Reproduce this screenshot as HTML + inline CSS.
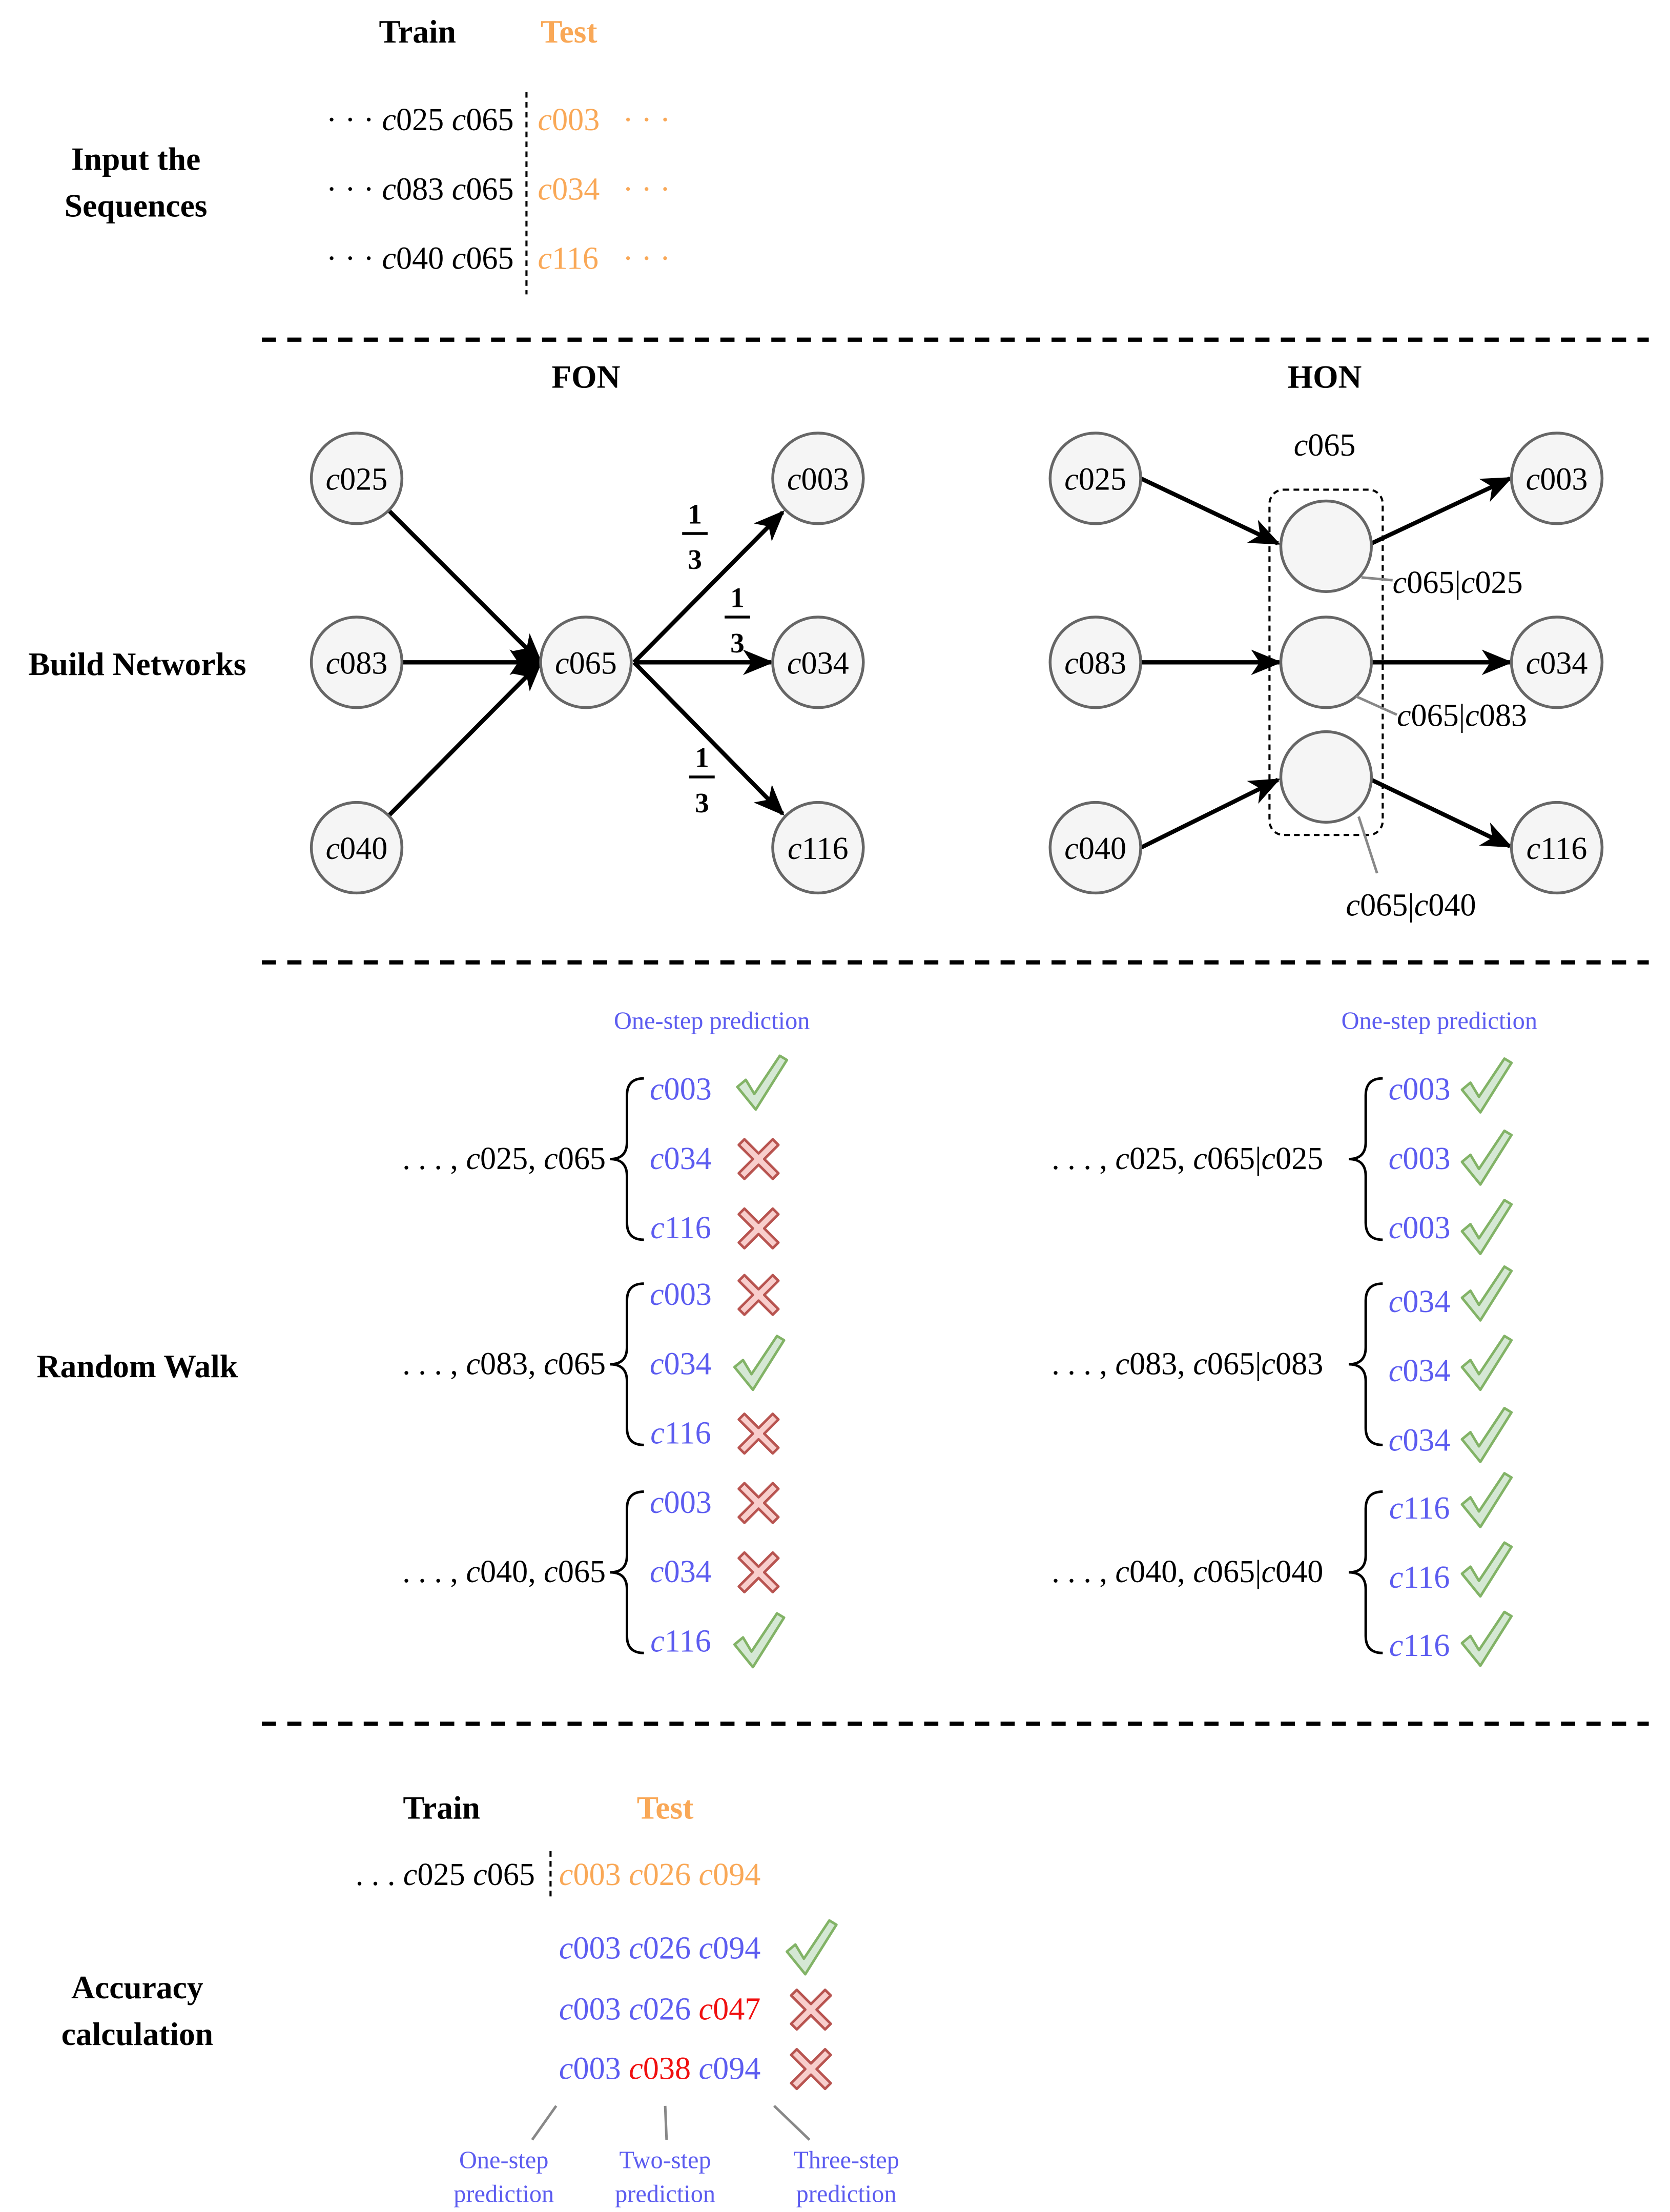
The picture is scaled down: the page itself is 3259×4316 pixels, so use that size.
<!DOCTYPE html>
<html><head><meta charset="utf-8"><style>
html,body{margin:0;padding:0;background:#fff}
svg{display:block}
text{font-family:"Liberation Serif",serif;font-size:22.5px;fill:#000}
.b{font-weight:bold;font-size:23px}
.o{fill:#f9a857}
.bl{fill:#5c5cf0}
.r{fill:#f01010}
.sm{font-size:17.5px}
.fr{font-size:20px;font-weight:bold}
</style></head><body>
<svg width="3259" height="4316" viewBox="0 0 1180 1563" preserveAspectRatio="none" xmlns="http://www.w3.org/2000/svg">
<defs>
<marker id="a2" markerWidth="22" markerHeight="18" refX="20" refY="9" orient="auto" markerUnits="userSpaceOnUse" viewBox="0 0 22 18">
<path d="M0,0 L22,9 L0,18 L6,9 z" fill="#000"/></marker>
<g id="ck"><path d="M0,22 L6,17 L12,27 L30,0 L35,3 L13,38 Z" fill="#d5e8d4" stroke="#82b366" stroke-width="1.8" stroke-linejoin="round"/></g>
<g id="xx"><path d="M0,4 L4,0 L14,10 L24,0 L28,4 L18,14 L28,24 L24,28 L14,18 L4,28 L0,24 L10,14 Z" fill="#f8cecc" stroke="#b85450" stroke-width="1.8" stroke-linejoin="round"/></g>
</defs>

<!-- Section 1 -->
<text x="295" y="30" class="b" text-anchor="middle">Train</text>
<text x="402" y="30" class="b o" text-anchor="middle">Test</text>
<text x="96" y="120" class="b" text-anchor="middle">Input the</text>
<text x="96" y="153" class="b" text-anchor="middle">Sequences</text>
<line x1="372" y1="65" x2="372" y2="208" stroke="#000" stroke-width="1.5" stroke-dasharray="4,3"/>
<text x="363" y="92" text-anchor="end">· · ·  <tspan font-style="italic">c</tspan>025 <tspan font-style="italic">c</tspan>065</text>
<text x="363" y="141" text-anchor="end">· · ·  <tspan font-style="italic">c</tspan>083 <tspan font-style="italic">c</tspan>065</text>
<text x="363" y="190" text-anchor="end">· · ·  <tspan font-style="italic">c</tspan>040 <tspan font-style="italic">c</tspan>065</text>
<text x="380" y="92" class="o"><tspan font-style="italic">c</tspan>003<tspan x="440">· · ·</tspan></text>
<text x="380" y="141" class="o"><tspan font-style="italic">c</tspan>034<tspan x="440">· · ·</tspan></text>
<text x="380" y="190" class="o"><tspan font-style="italic">c</tspan>116<tspan x="440">· · ·</tspan></text>

<g stroke="#000" stroke-width="3" stroke-dasharray="10,8">
<line x1="185" y1="240" x2="1165" y2="240"/>
<line x1="185" y1="680" x2="1165" y2="680"/>
<line x1="185" y1="1218" x2="1165" y2="1218"/>
</g>

<!-- Build networks -->
<text x="97" y="477" class="b" text-anchor="middle">Build Networks</text>
<text x="414" y="274" class="b" text-anchor="middle">FON</text>
<text x="936" y="274" class="b" text-anchor="middle">HON</text>
<g stroke="#000" stroke-width="3" fill="none">
<line x1="275" y1="361" x2="382" y2="468" marker-end="url(#a2)"/>
<line x1="284" y1="468" x2="380" y2="468" marker-end="url(#a2)"/>
<line x1="275" y1="576" x2="382" y2="468" marker-end="url(#a2)"/>
<line x1="448" y1="468" x2="553" y2="362" marker-end="url(#a2)"/>
<line x1="448" y1="468" x2="545" y2="468" marker-end="url(#a2)"/>
<line x1="448" y1="468" x2="553" y2="575" marker-end="url(#a2)"/>
<line x1="806" y1="338" x2="903" y2="384" marker-end="url(#a2)"/>
<line x1="806" y1="468" x2="904" y2="468" marker-end="url(#a2)"/>
<line x1="806" y1="599" x2="903" y2="551" marker-end="url(#a2)"/>
<line x1="969" y1="384" x2="1067" y2="338" marker-end="url(#a2)"/>
<line x1="969" y1="468" x2="1067" y2="468" marker-end="url(#a2)"/>
<line x1="969" y1="551" x2="1067" y2="598" marker-end="url(#a2)"/>
</g>
<g fill="#f5f5f5" stroke="#666" stroke-width="2">
<circle cx="252" cy="338" r="32"/><circle cx="252" cy="468" r="32"/><circle cx="252" cy="599" r="32"/>
<circle cx="414" cy="468" r="32"/>
<circle cx="578" cy="338" r="32"/><circle cx="578" cy="468" r="32"/><circle cx="578" cy="599" r="32"/>
<circle cx="774" cy="338" r="32"/><circle cx="774" cy="468" r="32"/><circle cx="774" cy="599" r="32"/>
<circle cx="937" cy="386" r="32"/><circle cx="937" cy="468" r="32"/><circle cx="937" cy="549" r="32"/>
<circle cx="1100" cy="338" r="32"/><circle cx="1100" cy="468" r="32"/><circle cx="1100" cy="599" r="32"/>
</g>
<rect x="897" y="346" width="80" height="244" rx="10" fill="none" stroke="#000" stroke-width="1.5" stroke-dasharray="4,3"/>
<g text-anchor="middle">
<text x="252" y="346"><tspan font-style="italic">c</tspan>025</text>
<text x="252" y="476"><tspan font-style="italic">c</tspan>083</text>
<text x="252" y="607"><tspan font-style="italic">c</tspan>040</text>
<text x="414" y="476"><tspan font-style="italic">c</tspan>065</text>
<text x="578" y="346"><tspan font-style="italic">c</tspan>003</text>
<text x="578" y="476"><tspan font-style="italic">c</tspan>034</text>
<text x="578" y="607"><tspan font-style="italic">c</tspan>116</text>
<text x="774" y="346"><tspan font-style="italic">c</tspan>025</text>
<text x="774" y="476"><tspan font-style="italic">c</tspan>083</text>
<text x="774" y="607"><tspan font-style="italic">c</tspan>040</text>
<text x="1100" y="346"><tspan font-style="italic">c</tspan>003</text>
<text x="1100" y="476"><tspan font-style="italic">c</tspan>034</text>
<text x="1100" y="607"><tspan font-style="italic">c</tspan>116</text>
<text x="936" y="322"><tspan font-style="italic">c</tspan>065</text>
<text x="491" y="370" class="fr">1</text><line x1="482" y1="377" x2="500" y2="377" stroke="#000" stroke-width="2"/><text x="491" y="402" class="fr">3</text>
<text x="521" y="429" class="fr">1</text><line x1="512" y1="436" x2="530" y2="436" stroke="#000" stroke-width="2"/><text x="521" y="461" class="fr">3</text>
<text x="496" y="542" class="fr">1</text><line x1="487" y1="549" x2="505" y2="549" stroke="#000" stroke-width="2"/><text x="496" y="574" class="fr">3</text>
</g>
<g stroke="#888" stroke-width="1.8">
<line x1="962" y1="408" x2="984" y2="410"/>
<line x1="958" y1="492" x2="987" y2="505"/>
<line x1="960" y1="577" x2="973" y2="617"/>
</g>
<text x="984" y="419"><tspan font-style="italic">c</tspan>065|<tspan font-style="italic">c</tspan>025</text>
<text x="987" y="513"><tspan font-style="italic">c</tspan>065|<tspan font-style="italic">c</tspan>083</text>
<text x="951" y="647"><tspan font-style="italic">c</tspan>065|<tspan font-style="italic">c</tspan>040</text>

<!-- Random walk -->
<text x="97" y="973" class="b" text-anchor="middle">Random Walk</text>
<text x="503" y="727" class="bl sm" text-anchor="middle">One-step prediction</text>
<text x="1017" y="727" class="bl sm" text-anchor="middle">One-step prediction</text>
<g fill="none" stroke="#000" stroke-width="1.8">
<path d="M455,762 Q443,762 443,774 L443,807 Q443,819 431,819 Q443,819 443,831 L443,864 Q443,876 455,876"/>
<path d="M455,907 Q443,907 443,919 L443,952 Q443,964 431,964 Q443,964 443,976 L443,1009 Q443,1021 455,1021"/>
<path d="M455,1054 Q443,1054 443,1066 L443,1099 Q443,1111 431,1111 Q443,1111 443,1123 L443,1156 Q443,1168 455,1168"/>
<path d="M977,762 Q965,762 965,774 L965,807 Q965,819 953,819 Q965,819 965,831 L965,864 Q965,876 977,876"/>
<path d="M977,907 Q965,907 965,919 L965,952 Q965,964 953,964 Q965,964 965,976 L965,1009 Q965,1021 977,1021"/>
<path d="M977,1054 Q965,1054 965,1066 L965,1099 Q965,1111 953,1111 Q965,1111 965,1123 L965,1156 Q965,1168 977,1168"/>
</g>
<g text-anchor="end">
<text x="428" y="826">. . . , <tspan font-style="italic">c</tspan>025, <tspan font-style="italic">c</tspan>065</text>
<text x="428" y="971">. . . , <tspan font-style="italic">c</tspan>083, <tspan font-style="italic">c</tspan>065</text>
<text x="428" y="1118">. . . , <tspan font-style="italic">c</tspan>040, <tspan font-style="italic">c</tspan>065</text>
<text x="935" y="826">. . . , <tspan font-style="italic">c</tspan>025, <tspan font-style="italic">c</tspan>065|<tspan font-style="italic">c</tspan>025</text>
<text x="935" y="971">. . . , <tspan font-style="italic">c</tspan>083, <tspan font-style="italic">c</tspan>065|<tspan font-style="italic">c</tspan>083</text>
<text x="935" y="1118">. . . , <tspan font-style="italic">c</tspan>040, <tspan font-style="italic">c</tspan>065|<tspan font-style="italic">c</tspan>040</text>
</g>
<g text-anchor="middle">
<text x="481" y="777" class="bl"><tspan font-style="italic">c</tspan>003</text>
<text x="481" y="826" class="bl"><tspan font-style="italic">c</tspan>034</text>
<text x="481" y="875" class="bl"><tspan font-style="italic">c</tspan>116</text>
<text x="481" y="922" class="bl"><tspan font-style="italic">c</tspan>003</text>
<text x="481" y="971" class="bl"><tspan font-style="italic">c</tspan>034</text>
<text x="481" y="1020" class="bl"><tspan font-style="italic">c</tspan>116</text>
<text x="481" y="1069" class="bl"><tspan font-style="italic">c</tspan>003</text>
<text x="481" y="1118" class="bl"><tspan font-style="italic">c</tspan>034</text>
<text x="481" y="1167" class="bl"><tspan font-style="italic">c</tspan>116</text>
<text x="1003" y="777" class="bl"><tspan font-style="italic">c</tspan>003</text>
<text x="1003" y="826" class="bl"><tspan font-style="italic">c</tspan>003</text>
<text x="1003" y="875" class="bl"><tspan font-style="italic">c</tspan>003</text>
<text x="1003" y="927" class="bl"><tspan font-style="italic">c</tspan>034</text>
<text x="1003" y="976" class="bl"><tspan font-style="italic">c</tspan>034</text>
<text x="1003" y="1025" class="bl"><tspan font-style="italic">c</tspan>034</text>
<text x="1003" y="1073" class="bl"><tspan font-style="italic">c</tspan>116</text>
<text x="1003" y="1122" class="bl"><tspan font-style="italic">c</tspan>116</text>
<text x="1003" y="1170" class="bl"><tspan font-style="italic">c</tspan>116</text>
</g>
<use href="#ck" x="521" y="746"/>
<use href="#xx" x="522" y="805"/>
<use href="#xx" x="522" y="854"/>
<use href="#xx" x="522" y="901"/>
<use href="#ck" x="519" y="944"/>
<use href="#xx" x="522" y="999"/>
<use href="#xx" x="522" y="1048"/>
<use href="#xx" x="522" y="1097"/>
<use href="#ck" x="519" y="1140"/>
<use href="#ck" x="1033" y="748"/>
<use href="#ck" x="1033" y="799"/>
<use href="#ck" x="1033" y="848"/>
<use href="#ck" x="1033" y="895"/>
<use href="#ck" x="1033" y="944"/>
<use href="#ck" x="1033" y="995"/>
<use href="#ck" x="1033" y="1041"/>
<use href="#ck" x="1033" y="1090"/>
<use href="#ck" x="1033" y="1139"/>

<!-- Accuracy -->
<text x="97" y="1412" class="b" text-anchor="middle">Accuracy</text>
<text x="97" y="1445" class="b" text-anchor="middle">calculation</text>
<text x="312" y="1285" class="b" text-anchor="middle">Train</text>
<text x="470" y="1285" class="b o" text-anchor="middle">Test</text>
<line x1="389" y1="1308" x2="389" y2="1343" stroke="#000" stroke-width="1.5" stroke-dasharray="4,3"/>
<text x="378" y="1332" text-anchor="end">. . .  <tspan font-style="italic">c</tspan>025 <tspan font-style="italic">c</tspan>065</text>
<text x="395" y="1332" class="o"><tspan font-style="italic">c</tspan>003 <tspan font-style="italic">c</tspan>026 <tspan font-style="italic">c</tspan>094</text>
<text x="395" y="1384" class="bl"><tspan font-style="italic">c</tspan>003 <tspan font-style="italic">c</tspan>026 <tspan font-style="italic">c</tspan>094</text>
<text x="395" y="1427" class="bl"><tspan font-style="italic">c</tspan>003 <tspan font-style="italic">c</tspan>026 <tspan class="r"><tspan font-style="italic">c</tspan>047</tspan></text>
<text x="395" y="1469" class="bl"><tspan font-style="italic">c</tspan>003 <tspan class="r"><tspan font-style="italic">c</tspan>038</tspan> <tspan font-style="italic">c</tspan>094</text>
<use href="#ck" x="556" y="1357"/>
<use href="#xx" x="559" y="1406"/>
<use href="#xx" x="559" y="1448"/>
<g stroke="#888" stroke-width="1.8">
<line x1="393" y1="1488" x2="376" y2="1512"/>
<line x1="470" y1="1488" x2="471" y2="1512"/>
<line x1="547" y1="1488" x2="572" y2="1512"/>
</g>
<g text-anchor="middle">
<text x="356" y="1532" class="bl sm">One-step</text><text x="356" y="1556" class="bl sm">prediction</text>
<text x="470" y="1532" class="bl sm">Two-step</text><text x="470" y="1556" class="bl sm">prediction</text>
<text x="598" y="1532" class="bl sm">Three-step</text><text x="598" y="1556" class="bl sm">prediction</text>
</g>
</svg>
</body></html>
